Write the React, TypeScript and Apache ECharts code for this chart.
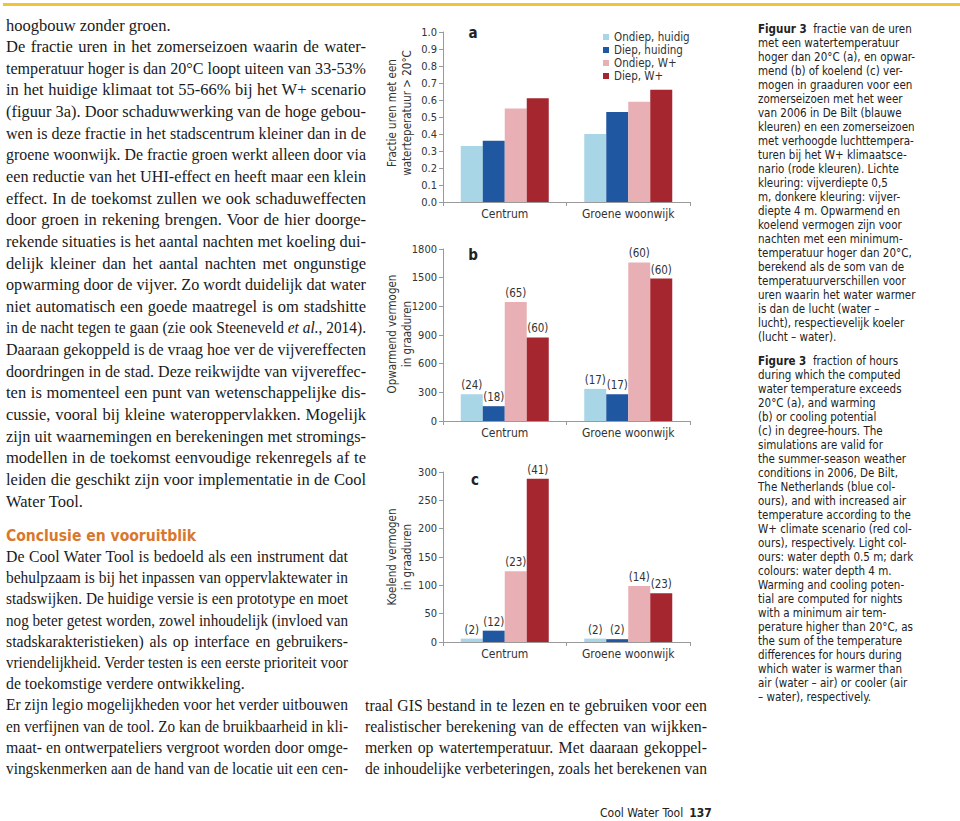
import React, { useEffect, useLayoutEffect, useRef } from "react";
import * as echarts from "echarts";

// ---------- chart data ----------
const categories = ["Centrum", "Groene woonwijk"];
const seriesNames = ["Ondiep, huidig", "Diep, huiding", "Ondiep, W+", "Diep, W+"];
const seriesColors = ["#A9D6E6", "#1F57A0", "#E8B0B5", "#A5262E"];

// (a) fraction of hours with water temperature > 20 C
const fracOndiepHuidig = [0.33, 0.4];
const fracDiepHuidig = [0.36, 0.53];
const fracOndiepW = [0.55, 0.59];
const fracDiepW = [0.61, 0.66];

// (b) warming potential (degree-hours) and number of nights
const warmOndiepHuidig = [280, 336];
const warmDiepHuidig = [155, 280];
const warmOndiepW = [1245, 1660];
const warmDiepW = [875, 1490];
const warmNightsOndiepHuidig = [24, 17];
const warmNightsDiepHuidig = [18, 17];
const warmNightsOndiepW = [65, 60];
const warmNightsDiepW = [60, 60];

// (c) cooling potential (degree-hours) and number of nights
const coolOndiepHuidig = [6, 6];
const coolDiepHuidig = [20, 5];
const coolOndiepW = [125, 99];
const coolDiepW = [288, 86];
const coolNightsOndiepHuidig = [2, 2];
const coolNightsDiepHuidig = [12, 2];
const coolNightsOndiepW = [23, 14];
const coolNightsDiepW = [41, 23];

// axis scales
const axisMaxA = 1;
const axisIntervalA = 0.1;
const axisMaxB = 1800;
const axisIntervalB = 300;
const axisMaxC = 300;
const axisIntervalC = 50;

const panelLetters = ["a", "b", "c"];
const yTitlesA = ["Fractie uren met een", "waterteperatuur > 20°C"];
const yTitlesB = ["Opwarmend vermogen", "in graaduren"];
const yTitlesC = ["Koelend vermogen", "in graaduren"];

// ---------- page text ----------
const leftLines1 = [
  "hoogbouw zonder groen.",
  "De fractie uren in het zomerseizoen waarin de water-",
  "temperatuur hoger is dan 20°C loopt uiteen van 33-53%",
  "in het huidige klimaat tot 55-66% bij het W+ scenario",
  "(figuur 3a). Door schaduwwerking van de hoge gebou-",
  "wen is deze fractie in het stadscentrum kleiner dan in de",
  "groene woonwijk. De fractie groen werkt alleen door via",
  "een reductie van het UHI-effect en heeft maar een klein",
  "effect. In de toekomst zullen we ook schaduweffecten",
  "door groen in rekening brengen. Voor de hier doorge-",
  "rekende situaties is het aantal nachten met koeling dui-",
  "delijk kleiner dan het aantal nachten met ongunstige",
  "opwarming door de vijver. Zo wordt duidelijk dat water",
  "niet automatisch een goede maatregel is om stadshitte",
  "in de nacht tegen te gaan (zie ook Steeneveld *et al.*, 2014).",
  "Daaraan gekoppeld is de vraag hoe ver de vijvereffecten",
  "doordringen in de stad. Deze reikwijdte van vijvereffec-",
  "ten is momenteel een punt van wetenschappelijke dis-",
  "cussie, vooral bij kleine wateroppervlakken. Mogelijk",
  "zijn uit waarnemingen en berekeningen met stromings-",
  "modellen in de toekomst eenvoudige rekenregels af te",
  "leiden die geschikt zijn voor implementatie in de Cool",
  "Water Tool.",
];
const leftLast1 = [0, 22];

const heading = "Conclusie en vooruitblik";

const leftLines2 = [
  "De Cool Water Tool is bedoeld als een instrument dat",
  "behulpzaam is bij het inpassen van oppervlaktewater in",
  "stadswijken. De huidige versie is een prototype en moet",
  "nog beter getest worden, zowel inhoudelijk (invloed van",
  "stadskarakteristieken) als op interface en gebruikers-",
  "vriendelijkheid. Verder testen is een eerste prioriteit voor",
  "de toekomstige verdere ontwikkeling.",
  "Er zijn legio mogelijkheden voor het verder uitbouwen",
  "en verfijnen van de tool. Zo kan de bruikbaarheid in kli-",
  "maat- en ontwerpateliers vergroot worden door omge-",
  "vingskenmerken aan de hand van de locatie uit een cen-",
];
const leftLast2 = [6];

const midLines = [
  "traal GIS bestand in te lezen en te gebruiken voor een",
  "realistischer berekening van de effecten van wijkken-",
  "merken op watertemperatuur. Met daaraan gekoppel-",
  "de inhoudelijke verbeteringen, zoals het berekenen van",
];

const captionNL = [
  "**Figuur 3**  fractie van de uren",
  "met een watertemperatuur",
  "hoger dan 20°C (a), en opwar-",
  "mend (b) of koelend (c) ver-",
  "mogen in graaduren voor een",
  "zomerseizoen met het weer",
  "van 2006 in De Bilt (blauwe",
  "kleuren) en een zomerseizoen",
  "met verhoogde luchttempera-",
  "turen bij het W+ klimaatsce-",
  "nario (rode kleuren). Lichte",
  "kleuring: vijverdiepte 0,5",
  "m, donkere kleuring: vijver-",
  "diepte 4 m. Opwarmend en",
  "koelend vermogen zijn voor",
  "nachten met een minimum-",
  "temperatuur hoger dan 20°C,",
  "berekend als de som van de",
  "temperatuurverschillen voor",
  "uren waarin het water warmer",
  "is dan de lucht (water –",
  "lucht), respectievelijk koeler",
  "(lucht – water).",
];

const captionEN = [
  "**Figure 3**  fraction of hours",
  "during which the computed",
  "water temperature exceeds",
  "20°C (a), and warming",
  "(b) or cooling potential",
  "(c) in degree-hours. The",
  "simulations are valid for",
  "the summer-season weather",
  "conditions in 2006, De Bilt,",
  "The Netherlands (blue col-",
  "ours), and with increased air",
  "temperature according to the",
  "W+ climate scenario (red col-",
  "ours), respectively. Light col-",
  "ours: water depth 0.5 m; dark",
  "colours: water depth 4 m.",
  "Warming and cooling poten-",
  "tial are computed for nights",
  "with a minimum air tem-",
  "perature higher than 20°C, as",
  "the sum of the temperature",
  "differences for hours during",
  "which water is warmer than",
  "air (water – air) or cooler (air",
  "– water), respectively.",
];

const footerTitle = "Cool Water Tool";
const footerPage = "137";

// ---------- styling ----------
const SANS = "'DejaVu Sans Condensed', 'Liberation Sans Narrow', 'Open Sans', sans-serif";
const SERIF = "'Liberation Serif', 'DejaVu Serif', serif";
const TEXT = "#333333";
const AXIS = "#9a9a9a";

function renderRich(s: string) {
  const parts: React.ReactNode[] = [];
  const re = /(\*\*[^*]+\*\*|\*[^*]+\*)/g;
  let last = 0;
  let m: RegExpExecArray | null;
  let k = 0;
  while ((m = re.exec(s))) {
    if (m.index > last) parts.push(s.slice(last, m.index));
    const t = m[0];
    if (t.startsWith("**")) parts.push(<b key={k++}>{t.slice(2, -2)}</b>);
    else parts.push(<i key={k++}>{t.slice(1, -1)}</i>);
    last = m.index + t.length;
  }
  if (last < s.length) parts.push(s.slice(last));
  return parts;
}

type BlockProps = {
  lines: string[];
  left: number;
  top: number;
  width: number;
  lh: number;
  font: string;
  size: number;
  color?: string;
  justify?: boolean;
  lastIdx?: number[];
  weight?: number | string;
  exact?: boolean;
};

function Block(p: BlockProps) {
  return (
    <div
      style={{
        position: "absolute",
        left: p.left,
        top: p.top,
        fontFamily: p.font,
        fontSize: p.size,
        lineHeight: p.lh + "px",
        color: p.color || "#1a1a1a",
        fontWeight: p.weight as any,
      }}
    >
      {p.lines.map((ln, i) => {
        const isLast = !p.justify || (p.lastIdx || []).includes(i);
        return (
          <div
            key={i}
            data-w={p.justify ? p.width : undefined}
            data-exact={p.exact ? "1" : undefined}
            style={{
              height: p.lh,
              width: p.justify ? p.width : "max-content",
              textAlign: isLast ? "left" : "justify",
              textAlignLast: isLast ? "left" : "justify",
              whiteSpace: p.justify ? "normal" : "pre",
            } as any}
          >
            {renderRich(ln)}
          </div>
        );
      })}
    </div>
  );
}

function buildOption() {
  const grids = [
    { left: 443, width: 247, top: 32, height: 170 },
    { left: 443, width: 247, top: 249, height: 172 },
    { left: 443, width: 247, top: 472, height: 170 },
  ];
  const maxes = [axisMaxA, axisMaxB, axisMaxC];
  const intervals = [axisIntervalA, axisIntervalB, axisIntervalC];
  const values = [
    [fracOndiepHuidig, fracDiepHuidig, fracOndiepW, fracDiepW],
    [warmOndiepHuidig, warmDiepHuidig, warmOndiepW, warmDiepW],
    [coolOndiepHuidig, coolDiepHuidig, coolOndiepW, coolDiepW],
  ];
  const nights: (number[][] | null)[] = [
    null,
    [warmNightsOndiepHuidig, warmNightsDiepHuidig, warmNightsOndiepW, warmNightsDiepW],
    [coolNightsOndiepHuidig, coolNightsDiepHuidig, coolNightsOndiepW, coolNightsDiepW],
  ];

  const xAxis = grids.map((_, i) => ({
    type: "category",
    gridIndex: i,
    data: categories,
    axisLine: { lineStyle: { color: AXIS, width: 1 } },
    axisTick: { show: true, length: 4, lineStyle: { color: AXIS } },
    axisLabel: { fontSize: 12, color: TEXT, margin: 6, fontFamily: SANS },
  }));
  const yAxis = grids.map((_, i) => ({
    type: "value",
    gridIndex: i,
    min: 0,
    max: maxes[i],
    interval: intervals[i],
    axisLine: { show: true, lineStyle: { color: AXIS, width: 1 } },
    axisTick: { show: true, length: 4, lineStyle: { color: AXIS } },
    splitLine: { show: false },
    axisLabel: {
      fontSize: 11,
      color: TEXT,
      margin: 6,
      fontFamily: SANS,
      formatter: (v: number) => (i === 0 ? v.toFixed(1) : String(v)),
    },
  }));

  const series: any[] = [];
  values.forEach((panel, p) => {
    panel.forEach((data, k) => {
      const n = nights[p];
      series.push({
        type: "bar",
        name: seriesNames[k],
        xAxisIndex: p,
        yAxisIndex: p,
        data,
        barWidth: 22,
        barGap: "0%",
        itemStyle: { color: seriesColors[k] },
        label: n
          ? {
              show: true,
              position: "top",
              distance: 3,
              fontSize: 11.5,
              color: TEXT,
              fontFamily: SANS,
              formatter: (pr: any) => `(${n[k][pr.dataIndex]})`,
            }
          : { show: false },
      });
    });
  });

  const titleSets = [yTitlesA, yTitlesB, yTitlesC];
  const titleY = [113, 334, 557];
  const letterPos = [
    [473, 33],
    [473, 255],
    [475, 480],
  ];
  const graphics: any[] = [];
  titleSets.forEach((t, i) => {
    t.forEach((line, j) => {
      graphics.push({
        type: "text",
        x: 392 + j * 14.5,
        y: titleY[i],
        rotation: Math.PI / 2,
        style: {
          text: line,
          fontSize: 11.5,
          fontFamily: SANS,
          fill: TEXT,
          textAlign: "center",
          textVerticalAlign: "middle",
        },
      });
    });
    graphics.push({
      type: "text",
      x: letterPos[i][0],
      y: letterPos[i][1],
      style: {
        text: panelLetters[i],
        fontSize: 15,
        fontWeight: "bold",
        fontFamily: SANS,
        fill: "#222",
        textAlign: "center",
        textVerticalAlign: "middle",
      },
    });
  });

  return {
    animation: false,
    grid: grids,
    xAxis,
    yAxis,
    series,
    legend: {
      data: seriesNames,
      orient: "vertical",
      left: 598,
      top: 26,
      itemWidth: 6,
      itemHeight: 6,
      itemGap: 1,
      icon: "rect",
      selectedMode: false,
      textStyle: { fontSize: 11.5, color: TEXT, fontFamily: SANS, lineHeight: 11 },
    },
    graphic: graphics,
  };
}

export default function App() {
  const chartRef = useRef<HTMLDivElement>(null);
  const pageRef = useRef<HTMLDivElement>(null);

  useEffect(() => {
    const chart = echarts.init(chartRef.current!, null, { renderer: "svg" });
    chart.setOption(buildOption() as any);
    return () => chart.dispose();
  }, []);

  useLayoutEffect(() => {
    const fit = () => {
      const root = pageRef.current;
      if (!root) return;
      root.querySelectorAll<HTMLElement>("[data-w]").forEach((el) => {
        const w = parseFloat(el.dataset.w || "0");
        el.style.transform = "";
        el.style.width = "max-content";
        el.style.whiteSpace = "pre";
        const nat = el.getBoundingClientRect().width;
        if (nat > w || el.dataset.exact) {
          el.style.width = nat + "px";
          el.style.transformOrigin = "left top";
          el.style.transform = `scaleX(${w / nat})`;
        } else {
          el.style.whiteSpace = "normal";
          el.style.width = w + "px";
        }
      });
    };
    fit();
    const fonts = (document as any).fonts;
    if (fonts && fonts.ready) fonts.ready.then(fit);
  }, []);

  return (
    <div
      ref={pageRef}
      style={{ position: "absolute", left: 0, top: 0, width: 960, height: 821, background: "#fff", overflow: "hidden" }}
    >
      <div ref={chartRef} style={{ position: "absolute", left: 0, top: 0, width: 960, height: 821 }} />
      <div style={{ position: "absolute", left: 3, top: 3, width: 957, height: 3, background: "#F2C332" }} />
      <Block lines={leftLines1} left={6} top={14.5} width={360} lh={21.65} font={SERIF} size={16.5} justify lastIdx={leftLast1} />
      <Block lines={[heading]} left={6} top={526} width={190} lh={20} font={SANS} size={16} weight="bold" color="#D9782C" justify exact />
      <Block lines={leftLines2} left={6} top={546} width={342} lh={21.2} font={SERIF} size={15.8} justify lastIdx={leftLast2} />
      <Block lines={midLines} left={365} top={694.5} width={342} lh={21.2} font={SERIF} size={15.8} justify />
      <Block lines={captionNL} left={758} top={22} width={200} lh={14} font={SANS} size={11.5} color="#222" />
      <Block lines={captionEN} left={758} top={354} width={200} lh={14} font={SANS} size={11.5} color="#222" />
      <div style={{ position: "absolute", left: 600, top: 806, fontFamily: SANS, fontSize: 12, lineHeight: "14px", color: "#222", whiteSpace: "pre" }}>
        {footerTitle}
        <span style={{ display: "inline-block", width: 6 }} />
        <b>{footerPage}</b>
      </div>
    </div>
  );
}
